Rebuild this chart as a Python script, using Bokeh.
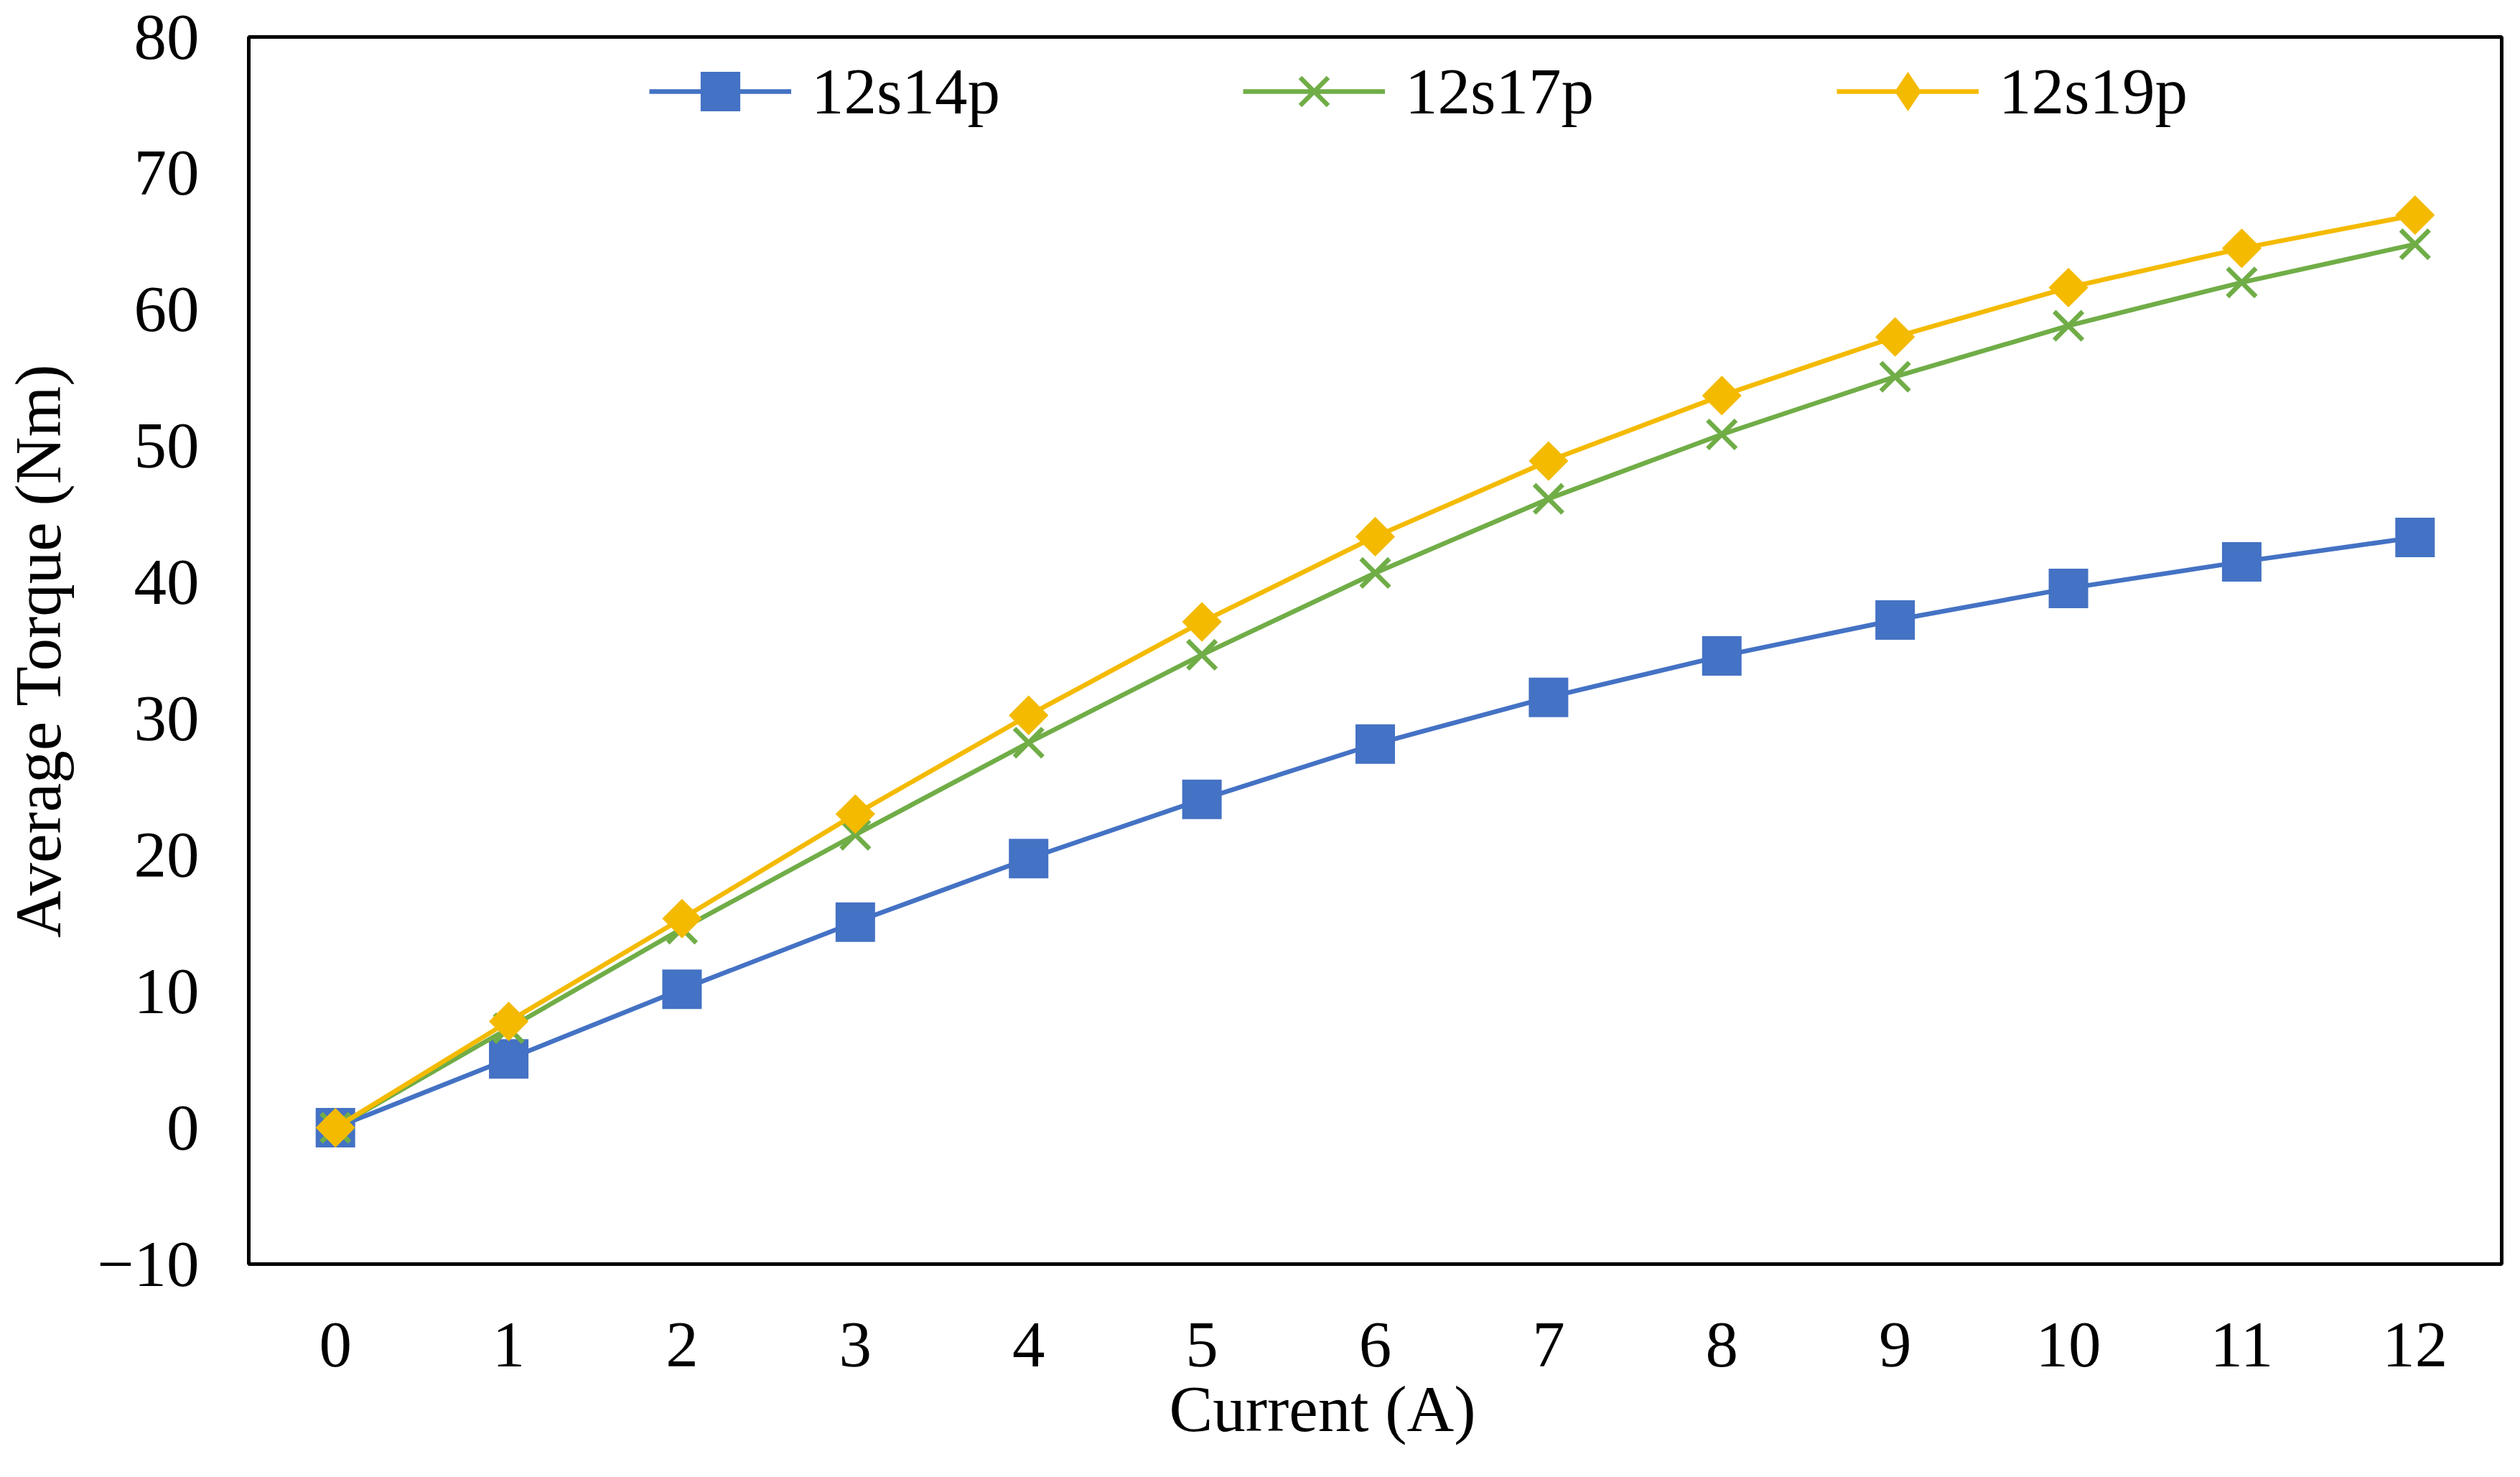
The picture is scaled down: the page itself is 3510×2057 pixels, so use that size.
import numpy as np
from bokeh.plotting import figure
from bokeh.models import (ColumnDataSource, Range1d, FixedTicker, Legend,
                          LegendItem, Title)
from bokeh.embed import file_html
from bokeh.resources import INLINE

# ---- data ----
current = [0, 1, 2, 3, 4, 5, 6, 7, 8, 9, 10, 11, 12]
torque_12s14p = [0, 5.05, 10.16, 15.08, 19.74, 24.08, 28.14, 31.57, 34.6, 37.24, 39.56, 41.51, 43.3]
torque_12s17p = [0, 7.3, 14.6, 21.49, 28.24, 34.69, 40.69, 46.13, 50.85, 55.08, 58.82, 62.0, 64.8]
torque_12s19p = [0, 7.8, 15.34, 23.0, 30.25, 37.1, 43.35, 48.9, 53.7, 58.0, 61.62, 64.5, 66.94]
series_names = ["12s14p", "12s17p", "12s19p"]
x_ticks = list(range(0, 13))
y_ticks = list(range(-10, 81, 10))
x_title = "Current (A)"
y_title = "Average Torque (Nm)"

BLUE = "#4472C4"
GREEN = "#70AD47"
GOLD = "#F4BA00"
FONT = "Liberation Serif"
FS = "91px"

src = ColumnDataSource(dict(current=current, t14=torque_12s14p,
                            t17=torque_12s17p, t19=torque_12s19p))

p = figure(width=3494, height=2041,
           x_range=Range1d(-0.5, 12.5), y_range=Range1d(-10, 80),
           output_backend="svg", toolbar_location=None,
           min_border_left=343, min_border_right=10,
           min_border_top=51, min_border_bottom=281)

p.background_fill_color = "white"
p.border_fill_color = "white"
p.outline_line_color = "black"
p.outline_line_width = 5
p.grid.visible = False

p.xaxis.ticker = FixedTicker(ticks=x_ticks)
p.yaxis.ticker = FixedTicker(ticks=y_ticks)
p.yaxis.major_label_overrides = {-10: "\u221210"}
for ax in (p.xaxis, p.yaxis):
    ax.axis_line_color = None
    ax.major_tick_line_color = None
    ax.minor_tick_line_color = None
    ax.major_tick_out = 0
    ax.major_tick_in = 0
    ax.major_label_text_font = FONT
    ax.major_label_text_font_size = FS
    ax.major_label_text_color = "black"
p.yaxis.major_label_standoff = 69
p.xaxis.major_label_standoff = 82

p.yaxis.axis_label = y_title
p.yaxis.axis_label_text_font = FONT
p.yaxis.axis_label_text_font_size = FS
p.yaxis.axis_label_text_font_style = "normal"
p.yaxis.axis_label_text_color = "black"
p.yaxis.axis_label_standoff = 28

# series
l1 = p.line("current", "t14", source=src, line_color=BLUE, line_width=6.5)
m1 = p.scatter("current", "t14", source=src, marker="square", size=55,
               fill_color=BLUE, line_color=None)
l2 = p.line("current", "t17", source=src, line_color=GREEN, line_width=6.5)
m2 = p.scatter("current", "t17", source=src, marker="x", size=56,
               line_color=GREEN, line_width=6.5)
l3 = p.line("current", "t19", source=src, line_color=GOLD, line_width=6.5)
m3 = p.scatter("current", "t19", source=src, marker="square", size=39,
               angle=np.pi / 4, fill_color=GOLD, line_color=None)
m3_leg = p.scatter("current", "t19", source=src, marker="diamond", size=56,
                   fill_color=GOLD, line_color=None, visible=False)

legend = Legend(items=[
    LegendItem(label=series_names[0], renderers=[l1, m1]),
    LegendItem(label=series_names[1], renderers=[l2, m2]),
    LegendItem(label=series_names[2], renderers=[l3, m3_leg]),
], orientation="horizontal", location=(558, 1564),
    glyph_width=198, glyph_height=138, label_height=138, label_width=400,
    label_standoff=28, spacing=201, padding=0, margin=0,
    border_line_color=None, background_fill_alpha=0,
    label_text_font=FONT, label_text_font_size=FS, label_text_color="black")
p.add_layout(legend)

xt = Title(text=x_title, align="left", offset=1282, vertical_align="top",
           standoff=12, text_font=FONT, text_font_size=FS,
           text_font_style="normal", text_color="black")
p.add_layout(xt, "below")

open("out.html", "w").write(file_html(p, INLINE))
